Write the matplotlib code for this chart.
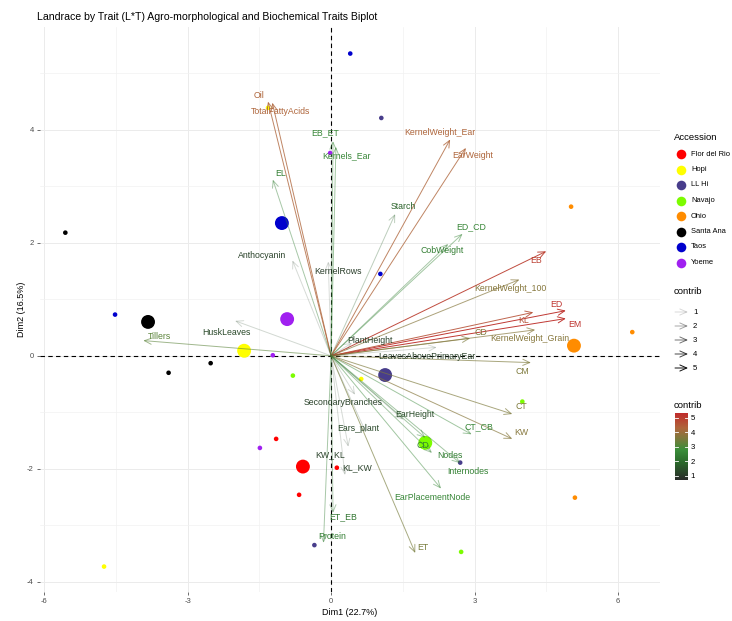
import matplotlib
matplotlib.use("Agg")
import matplotlib.pyplot as plt
import matplotlib.colors as mcolors
import numpy as np

plt.rcParams['font.family'] = ['Liberation Sans', 'DejaVu Sans']
plt.rcParams['axes.unicode_minus'] = False

# accessions (landraces)
acc_names = ["Flor del Rio", "Hopi", "LL Hi", "Navajo", "Ohio", "Santa Ana", "Taos", "Yoeme"]
acc_colors = ["#FF0000", "#FFFF00", "#483D8B", "#7CFC00", "#FF8C00", "#000000", "#0000CD", "#A020F0"]

# individual plots (Dim1, Dim2)
ind_acc = ["Flor del Rio", "Flor del Rio", "Flor del Rio",
           "Hopi", "Hopi", "Hopi",
           "LL Hi", "LL Hi", "LL Hi",
           "Navajo", "Navajo", "Navajo",
           "Ohio", "Ohio", "Ohio",
           "Santa Ana", "Santa Ana", "Santa Ana",
           "Taos", "Taos", "Taos",
           "Yoeme", "Yoeme", "Yoeme"]
ind_x = [-1.15, 0.12, -0.67,
         -1.32, 0.63, -4.75,
         1.05, 2.70, -0.35,
         -0.80, 4.00, 2.72,
         5.02, 6.30, 5.10,
         -5.56, -3.40, -2.52,
         0.40, 1.03, -4.52,
         -0.02, -1.22, -1.49]
ind_y = [-1.47, -1.98, -2.46,
         4.39, -0.41, -3.73,
         4.21, -1.89, -3.35,
         -0.35, -0.81, -3.47,
         2.64, 0.42, -2.51,
         2.18, -0.30, -0.13,
         5.35, 1.45, 0.73,
         3.59, 0.01, -1.63]

# accession centroids
mean_x = [-0.59, -1.82, 1.13, 1.97, 5.08, -3.83, -1.03, -0.92]
mean_y = [-1.96, 0.09, -0.34, -1.54, 0.18, 0.60, 2.35, 0.65]

# trait loadings
var_names = ["Oil", "TotalFattyAcids", "EB_ET", "Kernels_Ear", "EL", "Starch",
             "KernelWeight_Ear", "EarWeight", "ED_CD", "CobWeight", "EB",
             "KernelWeight_100", "ED", "EM", "KL", "CD", "KernelWeight_Grain", "CM",
             "LeavesAbovePrimaryEar", "PlantHeight", "HuskLeaves", "Tillers",
             "Anthocyanin", "KernelRows", "SecondaryBranches", "EarHeight",
             "Ears_plant", "CT", "CT_CB", "KW", "CD", "Nodes", "Internodes",
             "EarPlacementNode", "ET", "KW_KL", "KL_KW", "ET_EB", "Protein"]
var_x = [-1.32, -1.23, 0.04, 0.10, -1.22, 1.34,
         2.49, 2.82, 2.75, 2.45, 4.50,
         3.94, 4.91, 4.91, 4.23, 2.91, 4.27, 4.18,
         2.21, 0.44, -2.01, -3.93,
         -0.81, -0.06, 0.50, 1.51,
         0.73, 3.79, 2.94, 3.79, 1.97, 2.11, 2.70,
         2.30, 1.76, 0.36, 0.29, 0.04, -0.16]
var_y = [4.50, 4.48, 3.80, 3.70, 3.12, 2.51,
         3.83, 3.68, 2.16, 1.98, 1.85,
         1.35, 0.80, 0.66, 0.77, 0.31, 0.46, -0.12,
         0.15, 0.23, 0.62, 0.27,
         1.69, 1.67, -0.69, -1.13,
         -1.36, -1.03, -1.39, -1.47, -1.45, -1.72, -1.90,
         -2.35, -3.49, -1.61, -2.11, -2.78, -3.31]
var_contrib = [4.3, 4.3, 2.6, 2.6, 2.4, 1.8,
               4.3, 4.3, 2.6, 2.4, 5.0,
               3.7, 5.2, 5.2, 4.7, 3.6, 3.7, 3.6,
               1.2, 1.2, 1.3, 3.2,
               1.2, 1.1, 1.2, 1.4,
               1.3, 3.6, 2.6, 3.7, 2.4, 2.4, 2.5,
               2.6, 3.5, 1.2, 1.2, 2.2, 2.4]
# repelled label positions
lab_x = [-1.51, -1.05, -0.13, 0.33, -1.05, 1.51,
         2.28, 2.97, 2.93, 2.32, 4.29,
         3.74, 4.71, 5.10, 4.02, 3.14, 4.16, 4.00,
         2.01, 0.82, -2.18, -3.60,
         -1.44, 0.15, 0.25, 1.76,
         0.56, 3.97, 3.10, 3.97, 1.92, 2.49, 2.87,
         2.11, 1.92, -0.02, 0.54, 0.25, 0.02]
lab_y = [4.60, 4.32, 3.95, 3.54, 3.22, 2.64,
         3.95, 3.54, 2.28, 1.86, 1.68,
         1.19, 0.90, 0.55, 0.62, 0.41, 0.30, -0.28,
         -0.02, 0.28, 0.42, 0.35,
         1.77, 1.49, -0.83, -1.04,
         -1.29, -0.90, -1.26, -1.36, -1.59, -1.77, -2.05,
         -2.51, -3.40, -1.75, -1.98, -2.85, -3.20]

cmin, cmax = 0.72, 5.34
cmap = mcolors.LinearSegmentedColormap.from_list(
    "contrib", [(0.0, "#2b2b2b"), (0.25, "#2a662a"), (0.45, "#3a8f3a"),
                (0.62, "#7d7a3c"), (0.78, "#b0663c"), (1.0, "#c02c2c")])
norm = mcolors.Normalize(cmin, cmax)

def arrow_alpha(c):
    return 0.1 + 0.9 * (c - cmin) / (cmax - cmin)

W, H = 732, 621
fig = plt.figure(figsize=(W / 100, H / 100), dpi=100)
ax = fig.add_axes([40 / W, 1 - 592 / H, 620 / W, 565 / H])

ax.set_xlim(-6.09, 6.88)
ax.set_ylim(-4.18, 5.82)
ax.set_xticks([-6, -3, 0, 3, 6])
ax.set_yticks([-4, -2, 0, 2, 4])
ax.set_xticks([-4.5, -1.5, 1.5, 4.5], minor=True)
ax.set_yticks([-3, -1, 1, 3, 5], minor=True)
ax.grid(which="major", color="#ebebeb", lw=0.7)
ax.grid(which="minor", color="#f2f2f2", lw=0.5)
ax.tick_params(which="major", length=2.5, width=0.5, color="#333333",
               labelsize=5.5, labelcolor="#4d4d4d", pad=2)
ax.tick_params(which="minor", length=0)
for s in ax.spines.values():
    s.set_visible(False)
ax.set_axisbelow(True)

ax.axhline(0, color="black", ls=(0, (4, 3)), lw=0.8, zorder=1)
ax.axvline(0, color="black", ls=(0, (4, 3)), lw=0.8, zorder=1)

col_of = dict(zip(acc_names, acc_colors))
ax.scatter(ind_x, ind_y, s=11, c=[col_of[a] for a in ind_acc], lw=0, zorder=2)
ax.scatter(mean_x, mean_y, s=100, c=acc_colors, lw=0, zorder=2)

for x, y, c in zip(var_x, var_y, var_contrib):
    rgba = list(cmap(norm(c)))
    rgba[3] = arrow_alpha(c)
    ax.annotate("", xy=(x, y), xytext=(0, 0),
                arrowprops=dict(arrowstyle="->,head_length=0.5,head_width=0.22",
                                color=tuple(rgba), lw=0.7,
                                shrinkA=0, shrinkB=0), zorder=3)

for name, lx, ly, c in zip(var_names, lab_x, lab_y, var_contrib):
    ax.text(lx, ly, name, color=cmap(norm(c)), fontsize=6.3,
            ha="center", va="center", zorder=4)

ax.set_xlabel("Dim1 (22.7%)", fontsize=6.5, labelpad=2)
ax.set_ylabel("Dim2 (16.5%)", fontsize=6.5, labelpad=1)

fig.text(37 / W, 1 - 17 / H, "Landrace by Trait (L*T) Agro-morphological and Biochemical Traits Biplot",
         fontsize=7.6, ha="left", va="center")

# legends drawn in pixel space on the right
lg = fig.add_axes([0, 0, 1, 1], zorder=5)
lg.set_xlim(0, W)
lg.set_ylim(H, 0)
lg.axis("off")

lg.text(674, 137, "Accession", fontsize=6.8, va="center")
for i, (name, col) in enumerate(zip(acc_names, acc_colors)):
    yy = 154 + i * 15.5
    lg.scatter([681], [yy], s=48, c=col, lw=0)
    lg.text(691, yy, name, fontsize=5.4, va="center")

lg.text(674, 292, "contrib", fontsize=6.8, va="center")
for i, c in enumerate([1, 2, 3, 4, 5]):
    yy = 312 + i * 14
    lg.annotate("", xy=(688, yy), xytext=(675, yy),
                arrowprops=dict(arrowstyle="->,head_length=0.5,head_width=0.22",
                                color=(0, 0, 0, arrow_alpha(c)), lw=0.7,
                                shrinkA=0, shrinkB=0))
    lg.text(693, yy, str(c), fontsize=5.6, va="center")

lg.text(674, 405, "contrib", fontsize=6.8, va="center")
cb_ax = fig.add_axes([675 / W, 1 - 480 / H, 13 / W, 67 / H])
grad = np.linspace(cmin, cmax, 200).reshape(-1, 1)
cb_ax.imshow(grad, aspect="auto", cmap=cmap, norm=norm, origin="lower",
             extent=[0, 1, cmin, cmax])
cb_ax.set_xticks([])
cb_ax.set_yticks([1, 2, 3, 4, 5])
cb_ax.yaxis.tick_right()
cb_ax.tick_params(axis="y", length=0, labelsize=5.6, pad=2)
for t in [1, 2, 3, 4, 5]:
    cb_ax.plot([0, 0.2], [t, t], color="white", lw=0.6)
    cb_ax.plot([0.8, 1], [t, t], color="white", lw=0.6)
cb_ax.set_xlim(0, 1)
cb_ax.set_ylim(cmin, cmax)
for s in cb_ax.spines.values():
    s.set_visible(False)

fig.savefig("out.png", dpi=100)
